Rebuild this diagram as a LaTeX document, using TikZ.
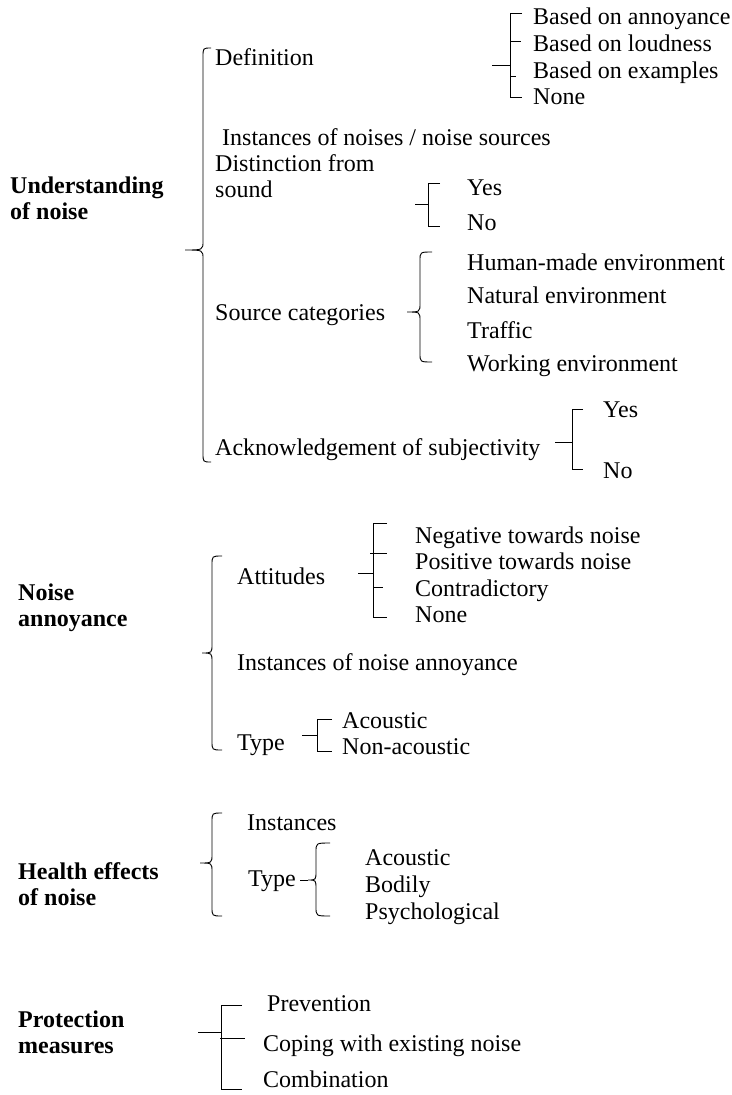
\documentclass[tikz,border=0pt]{standalone}
\usepackage{fontspec}
\setmainfont{Liberation Serif}
\usepackage{tikz}

% curly brace: end x, stem x, tip x, top y, tip y, bottom y
\newcommand{\curly}[6]{%
  \draw[br] (#1,#4) .. controls (#2,#4) .. (#2,#4+9) -- (#2,#5-9)
    .. controls (#2,#5) .. (#3,#5) .. controls (#2,#5) .. (#2,#5+9)
    -- (#2,#6-9) .. controls (#2,#6) .. (#1,#6);}

\begin{document}
\begin{tikzpicture}[x=1pt,y=-1pt,
    txt/.style={anchor=west,inner sep=0pt,yshift=-2pt,font=\fontsize{24}{26}\selectfont},
    itm/.style={txt,text height=17pt,text depth=5pt},
    head/.style={anchor=west,inner sep=0pt,yshift=-1pt,align=left,font=\fontsize{24}{26}\selectfont\bfseries},
    br/.style={line width=0.9pt}]
        \useasboundingbox (0,0) rectangle (731,1095);
        % understanding of noise
        \node[head] (und) at (10,197) {Understanding\\of noise};
        \node[itm] (def) at (215,57) {Definition};
        \node[itm] (ann) at (533,16) {Based on annoyance};
        \node[itm] (loud) at (533,43) {Based on loudness};
        \node[itm] (exa) at (533,70) {Based on examples};
        \node[itm] (nonea) at (533,96) {None};
        \node[itm] (inst) at (222,137) {Instances of noises / noise sources};
        \node[txt,align=left] (dist) at (215,174) {Distinction from\\sound};
        \node[itm] (yesa) at (467,187) {Yes};
        \node[itm] (noa) at (467,222) {No};
        \node[itm] (src) at (215,312) {Source categories};
        \node[itm] (hum) at (467,262) {Human-made environment};
        \node[itm] (nat) at (467,295) {Natural environment};
        \node[itm] (traf) at (467,330) {Traffic};
        \node[itm] (work) at (467,363) {Working environment};
        \node[itm] (ack) at (215,447) {Acknowledgement of subjectivity};
        \node[itm] (yesb) at (603,409) {Yes};
        \node[itm] (nob) at (603,470) {No};
        \curly{211}{203}{185}{48}{250}{462}
        \draw[br] (492,65) -- (510,65);
        \draw[br] (522,13) -- (510,13) -- (510,97) -- (522,97);
        \draw[br] (510,41) -- (521,41);
        \draw[br] (510,76) -- (516,76);
        \draw[br] (415,204) -- (428,204);
        \draw[br] (440,183) -- (428,183) -- (428,226) -- (440,226);
        \curly{432}{420}{407}{252}{312}{362}
        \draw[br] (555,442) -- (572,442);
        \draw[br] (583,409) -- (572,409) -- (572,469) -- (583,469);
        % noise annoyance
        \node[head] (nann) at (18,607) {Noise\\annoyance};
        \node[itm] (att) at (237,576) {Attitudes};
        \node[itm] (neg) at (415,535) {Negative towards noise};
        \node[itm] (pos) at (415,561) {Positive towards noise};
        \node[itm] (con) at (415,588) {Contradictory};
        \node[itm] (noneb) at (415,614) {None};
        \node[itm] (insa) at (237,662) {Instances of noise annoyance};
        \node[itm] (typa) at (237,742) {Type};
        \node[itm] (acoa) at (342,720) {Acoustic};
        \node[itm] (nac) at (342,746) {Non-acoustic};
        \curly{222}{212}{202}{556}{653}{750}
        \draw[br] (358,573) -- (373,573);
        \draw[br] (387,523) -- (373,523) -- (373,617) -- (387,617);
        \draw[br] (370,553) -- (387,553);
        \draw[br] (373,587) -- (383,587);
        \draw[br] (302,735) -- (317,735);
        \draw[br] (332,719) -- (317,719) -- (317,751) -- (332,751);
        % health effects
        \node[head] (hea) at (18,883) {Health effects\\of noise};
        \node[itm] (insb) at (247,822) {Instances};
        \node[itm] (typb) at (248,878) {Type};
        \node[itm] (acob) at (365,857) {Acoustic};
        \node[itm] (bod) at (365,884) {Bodily};
        \node[itm] (psy) at (365,911) {Psychological};
        \curly{222}{212}{200}{813}{863}{916}
        \draw[br] (300,880) -- (308,880);
        \curly{330}{316}{308}{843}{880}{916}
        % protection measures
        \node[head] (pro) at (18,1031) {Protection\\measures};
        \node[itm] (prev) at (267,1003) {Prevention};
        \node[itm] (cop) at (263,1043) {Coping with existing noise};
        \node[itm] (comb) at (263,1079) {Combination};
        \draw[br] (198,1032) -- (221,1032);
        \draw[br] (242,1005) -- (221,1005) -- (221,1089) -- (242,1089);
        \draw[br] (220,1038) -- (245,1038);
    \end{tikzpicture}
\end{document}
